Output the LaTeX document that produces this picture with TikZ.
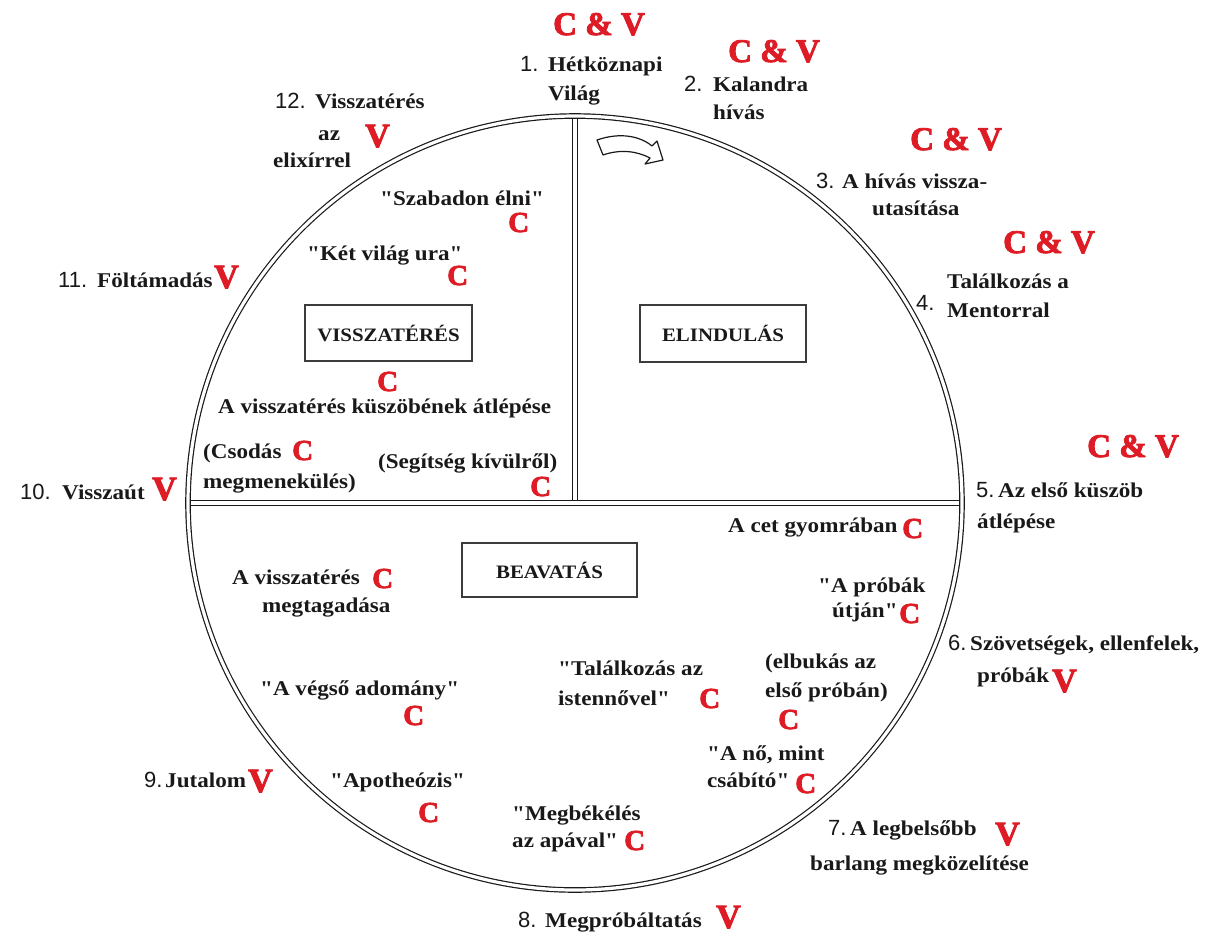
\documentclass[tikz,border=0pt]{standalone}
\usepackage{fontspec}
\newfontfamily\txtfamily[FakeStretch=1.1]{Liberation Serif}
\newfontfamily\numfamily{Liberation Sans}
\newfontfamily\redfamily[FakeBold=2.6]{Liberation Serif}
\newcommand\mytxt{\txtfamily\bfseries\fontsize{21}{25}\selectfont}
\newcommand\myboxtxt{\txtfamily\bfseries\fontsize{19}{23}\selectfont}
\newcommand\mynum{\numfamily\fontsize{22}{26}\selectfont}
\newcommand\myredC{\redfamily\bfseries\fontsize{29}{31}\selectfont}
\newcommand\myredV{\redfamily\bfseries\fontsize{34}{36}\selectfont}
\newcommand\myredCV{\redfamily\bfseries\fontsize{33}{35}\selectfont}
\definecolor{cred}{RGB}{222,28,38}
\definecolor{ink}{RGB}{25,25,25}
\tikzset{
  txt/.style={font=\mytxt, text=ink, anchor=base west, inner sep=0pt},
  num/.style={font=\mynum, text=ink, anchor=base west, inner sep=0pt},
  rc/.style={font=\myredC, text=cred, anchor=base west, inner sep=0pt},
  rv/.style={font=\myredV, text=cred, anchor=base west, inner sep=0pt},
  rcv/.style={font=\myredCV, text=cred, anchor=base west, inner sep=0pt},
  dbl/.style={draw=ink, line width=1.2pt, double=white, double distance=3.2pt},
  phasebox/.style={draw=ink!85, line width=1.2pt, font=\myboxtxt, text=ink, inner sep=0pt},
}
\begin{document}
\begin{tikzpicture}[x=1pt, y=-1pt]
\useasboundingbox (0,0) rectangle (1228,938);
\fill[white] (0,0) rectangle (1228,938);

% circle and dividers
\coordinate (ctr) at (575,503);
\coordinate (vtop) at (575,117);
\coordinate (vbot) at (575,501);
\coordinate (hl) at (189,503);
\coordinate (hr) at (961,503);
\draw[dbl] (vtop) -- (vbot);
\draw[dbl] (hl) -- (hr);
\draw[dbl] (ctr) circle[radius=387];

% turning arrow
\draw[ink, line width=1.2pt, fill=white, line join=round]
  (597,140) .. controls (620,132) and (640,136) .. (652,146) -- (657,141) -- (663,160)
  -- (645,164) -- (650,158) .. controls (637,151) and (620,149) .. (603,155) -- cycle;

% phase boxes
\node[phasebox, minimum width=167pt, minimum height=56pt] (bvissza) at (388.5,333) {VISSZATÉRÉS};
\node[phasebox, minimum width=166pt, minimum height=57pt] (belind) at (723,333.5) {ELINDULÁS};
\node[phasebox, minimum width=175pt, minimum height=54pt] (bbeav) at (549.5,570) {BEAVATÁS};

% outer stage labels
\node[rcv] (cv1) at (553,35) {C \& V};
\node[num] (n1) at (520,71) {1.};
\node[txt] (t1a) at (548,71) {Hétköznapi};
\node[txt] (t1b) at (548,100) {Világ};

\node[rcv] (cv2) at (728,62) {C \& V};
\node[num] (n2) at (684,91) {2.};
\node[txt] (t2a) at (713,91) {Kalandra};
\node[txt] (t2b) at (713,119) {hívás};

\node[rcv] (cv3) at (910,150) {C \& V};
\node[num] (n3) at (816,188) {3.};
\node[txt] (t3a) at (842,188) {A hívás vissza-};
\node[txt] (t3b) at (872,215) {utasítása};

\node[rcv] (cv4) at (1003,253) {C \& V};
\node[num] (n4) at (916,310) {4.};
\node[txt] (t4a) at (947,288) {Találkozás a};
\node[txt] (t4b) at (947,317) {Mentorral};

\node[rcv] (cv5) at (1087,457) {C \& V};
\node[num] (n5) at (976,497) {5.};
\node[txt] (t5a) at (998,497) {Az első küszöb};
\node[txt] (t5b) at (977,528) {átlépése};

\node[num] (n6) at (948,650) {6.};
\node[txt] (t6a) at (970,650) {Szövetségek, ellenfelek,};
\node[txt] (t6b) at (977,682) {próbák};
\node[rv] (v6) at (1052,692) {V};

\node[num] (n7) at (828,835) {7.};
\node[txt] (t7a) at (850,835) {A legbelsőbb};
\node[rv] (v7) at (995,845) {V};
\node[txt] (t7b) at (810,870) {barlang megközelítése};

\node[num] (n8) at (518,927) {8.};
\node[txt] (t8a) at (545,927) {Megpróbáltatás};
\node[rv] (v8) at (716,928) {V};

\node[num] (n9) at (144,787) {9.};
\node[txt] (t9a) at (165,787) {Jutalom};
\node[rv] (v9) at (248,792) {V};

\node[num] (n10) at (20,499) {10.};
\node[txt] (t10a) at (62,499) {Visszaút};
\node[rv] (v10) at (152,500) {V};

\node[num] (n11) at (58,287) {11.};
\node[txt] (t11a) at (97,287) {Föltámadás};
\node[rv] (v11) at (214,288) {V};

\node[num] (n12) at (275,108) {12.};
\node[txt] (t12a) at (315,108) {Visszatérés};
\node[txt] (t12b) at (318,140) {az};
\node[rv] (v12) at (365,147) {V};
\node[txt] (t12c) at (273,167) {elixírrel};

% inner labels: return quadrant
\node[txt] (szab) at (380,205) {"Szabadon élni"};
\node[rc] (cszab) at (508,232) {C};
\node[txt] (ket) at (307,260) {"Két világ ura"};
\node[rc] (cket) at (447,285) {C};
\node[rc] (ckusz) at (377,391) {C};
\node[txt] (kusz) at (218,413) {A visszatérés küszöbének átlépése};
\node[txt] (csod1) at (203,458) {(Csodás};
\node[rc] (ccsod) at (292,460) {C};
\node[txt] (csod2) at (203,488) {megmenekülés)};
\node[txt] (seg) at (378,468) {(Segítség kívülről)};
\node[rc] (cseg) at (530,496) {C};

% inner labels: initiation half
\node[txt] (cet) at (728,532) {A cet gyomrában};
\node[rc] (ccet) at (902,538) {C};
\node[txt] (prob1) at (818,592) {"A próbák};
\node[txt] (prob2) at (832,617) {útján"};
\node[rc] (cprob) at (899,623) {C};
\node[txt] (meg1) at (232,584) {A visszatérés};
\node[rc] (cmeg) at (372,588) {C};
\node[txt] (meg2) at (262,612) {megtagadása};
\node[txt] (tal1) at (558,675) {"Találkozás az};
\node[txt] (tal2) at (558,705) {istennővel"};
\node[rc] (ctal) at (699,708) {C};
\node[txt] (elb1) at (765,668) {(elbukás az};
\node[txt] (elb2) at (765,697) {első próbán)};
\node[rc] (celb) at (778,729) {C};
\node[txt] (veg) at (260,695) {"A végső adomány"};
\node[rc] (cveg) at (403,725) {C};
\node[txt] (no1) at (707,760) {"A nő, mint};
\node[txt] (no2) at (707,787) {csábító"};
\node[rc] (cno) at (795,793) {C};
\node[txt] (apo) at (330,787) {"Apotheózis"};
\node[rc] (capo) at (418,822) {C};
\node[txt] (mb1) at (512,820) {"Megbékélés};
\node[txt] (mb2) at (512,847) {az apával"};
\node[rc] (cmb) at (624,850) {C};
\end{tikzpicture}
\end{document}
